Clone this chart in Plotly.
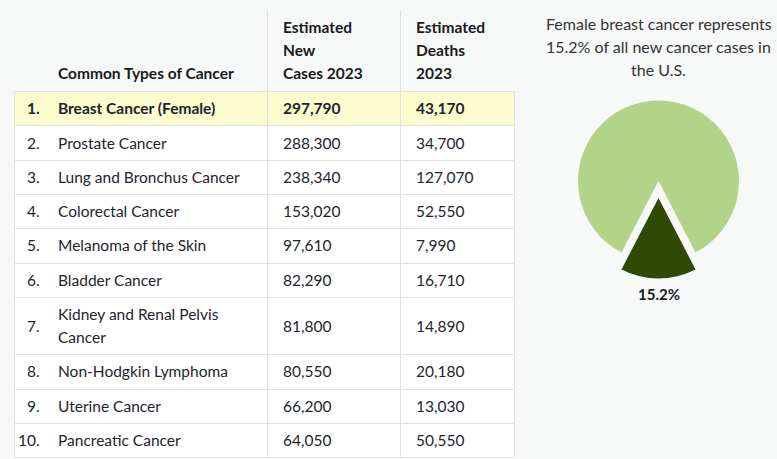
import plotly.graph_objects as go

# ---------------- data ----------------
ranks = ["1.", "2.", "3.", "4.", "5.", "6.", "7.", "8.", "9.", "10."]
cancer_types = [
    "Breast Cancer (Female)",
    "Prostate Cancer",
    "Lung and Bronchus Cancer",
    "Colorectal Cancer",
    "Melanoma of the Skin",
    "Bladder Cancer",
    "Kidney and Renal Pelvis<br>Cancer",
    "Non-Hodgkin Lymphoma",
    "Uterine Cancer",
    "Pancreatic Cancer",
]
new_cases_2023 = [297790, 288300, 238340, 153020, 97610, 82290, 81800, 80550, 66200, 64050]
deaths_2023 = [43170, 34700, 127070, 52550, 7990, 16710, 14890, 20180, 13030, 50550]
header_labels = [
    "Common Types of Cancer",
    "Estimated<br>New<br>Cases 2023",
    "Estimated<br>Deaths<br>2023",
]
breast_share_pct = 15.2
pie_labels = ["Female breast cancer", "All other cancers"]
pie_title_lines = [
    "Female breast cancer represents",
    "15.2% of all new cancer cases in",
    "the U.S.",
]

# ---------------- style / layout constants ----------------
W, H = 777, 459
BG = "#f7f8f8"
GRID = "#e1e1e1"
HILITE = "#fdfcce"
TXT = "#1e2430"
HDR_TXT = "#1a1a1a"
FONT = "Lato"
FS = 15.5
TITLE_FS = 16

COL_EDGES = [14, 267, 400, 514]
RANK_RIGHT = 42
NAME_LEFT = 56
VAL_PAD = 14
HEADER_TOP = 10
BODY_TOP = 91
ROW_H = 34.33
LINE_H = 23
HDR_LAST_LINE_Y = 73

fig = go.Figure()
shapes = []
annotations = []


def crisp(v):
    return round(v) + 0.5


# header vertical separators (inner only)
for xe in COL_EDGES[1:-1]:
    shapes.append(dict(type="line", xref="x", yref="y", x0=crisp(xe), x1=crisp(xe),
                       y0=HEADER_TOP, y1=BODY_TOP, line=dict(color=GRID, width=1)))

# header texts (bottom aligned)
hdr_x = [NAME_LEFT, COL_EDGES[1] + VAL_PAD, COL_EDGES[2] + VAL_PAD]
for hx, lab in zip(hdr_x, header_labels):
    lines = lab.split("<br>")
    n = len(lines)
    for k, ln in enumerate(lines):
        annotations.append(dict(xref="x", yref="y", x=hx, y=HDR_LAST_LINE_Y - (n - 1 - k) * LINE_H,
                                text=f"<b>{ln}</b>", showarrow=False, xanchor="left", yanchor="middle",
                                font=dict(family=FONT, size=FS, color=HDR_TXT)))

# body rows
y = BODY_TOP
for i, (rk, name, nc, dt) in enumerate(zip(ranks, cancer_types, new_cases_2023, deaths_2023)):
    lines = name.split("<br>")
    rh = ROW_H + (len(lines) - 1) * LINE_H
    y0, y1 = crisp(y), crisp(y + rh)
    fill = HILITE if i == 0 else "white"
    for c in range(3):
        shapes.append(dict(type="rect", xref="x", yref="y", x0=crisp(COL_EDGES[c]), x1=crisp(COL_EDGES[c + 1]),
                           y0=y0, y1=y1, fillcolor=fill, line=dict(color=GRID, width=1), layer="below"))
    yc = y + rh / 2
    bold = i == 0

    def fmt(s):
        return f"<b>{s}</b>" if bold else s

    annotations.append(dict(xref="x", yref="y", x=RANK_RIGHT, y=yc, text=fmt(rk), showarrow=False,
                            xanchor="right", yanchor="middle", font=dict(family=FONT, size=FS, color=TXT)))
    n = len(lines)
    for k, ln in enumerate(lines):
        annotations.append(dict(xref="x", yref="y", x=NAME_LEFT, y=yc + (k - (n - 1) / 2) * LINE_H,
                                text=fmt(ln), showarrow=False, xanchor="left", yanchor="middle",
                                font=dict(family=FONT, size=FS, color=TXT)))
    annotations.append(dict(xref="x", yref="y", x=COL_EDGES[1] + VAL_PAD, y=yc, text=fmt(f"{nc:,}"),
                            showarrow=False, xanchor="left", yanchor="middle",
                            font=dict(family=FONT, size=FS, color=TXT)))
    annotations.append(dict(xref="x", yref="y", x=COL_EDGES[2] + VAL_PAD, y=yc, text=fmt(f"{dt:,}"),
                            showarrow=False, xanchor="left", yanchor="middle",
                            font=dict(family=FONT, size=FS, color=TXT)))
    y += rh

# invisible trace to anchor axes
fig.add_trace(go.Scatter(x=[0, W], y=[0, H], mode="markers", marker=dict(opacity=0),
                         hoverinfo="skip", showlegend=False))

# pie title lines
PIE_CX = 658.5
for k, ln in enumerate(pie_title_lines):
    annotations.append(dict(xref="x", yref="y", x=PIE_CX, y=23 + k * LINE_H, text=ln, showarrow=False,
                            xanchor="center", yanchor="middle",
                            font=dict(family=FONT, size=TITLE_FS, color="#333333")))

# pie
share = breast_share_pct
rest = 100 - share
pie_r = 80.5
pull = 0.21
pie_cy = 181
half = pie_r * (1 + pull)
fig.add_trace(go.Pie(
    values=[share, rest], labels=pie_labels, sort=False, direction="clockwise",
    rotation=180 - share * 360 / 100 / 2, pull=[pull, 0],
    marker=dict(colors=["#2f4a04", "#b3d389"], line=dict(width=0)),
    textinfo="none",
    domain=dict(x=[(PIE_CX - half) / W, (PIE_CX + half) / W],
                y=[(H - pie_cy - half) / H, (H - pie_cy + half) / H]),
    showlegend=False, hoverinfo="skip",
))
# percentage label below the pulled slice
annotations.append(dict(xref="x", yref="y", x=PIE_CX, y=pie_cy + half + 16, text=f"<b>{share}%</b>",
                        showarrow=False, xanchor="center", yanchor="middle",
                        font=dict(family=FONT, size=15, color="#1a1a1a")))

fig.update_layout(
    width=W, height=H, margin=dict(l=0, r=0, t=0, b=0),
    paper_bgcolor=BG, plot_bgcolor=BG,
    xaxis=dict(range=[0, W], visible=False, fixedrange=True),
    yaxis=dict(range=[H, 0], visible=False, fixedrange=True),
    shapes=shapes, annotations=annotations,
)

fig.write_html("out.html", config={"displayModeBar": False},
               post_script="document.body.style.margin='0';document.body.style.background='" + BG + "';")
